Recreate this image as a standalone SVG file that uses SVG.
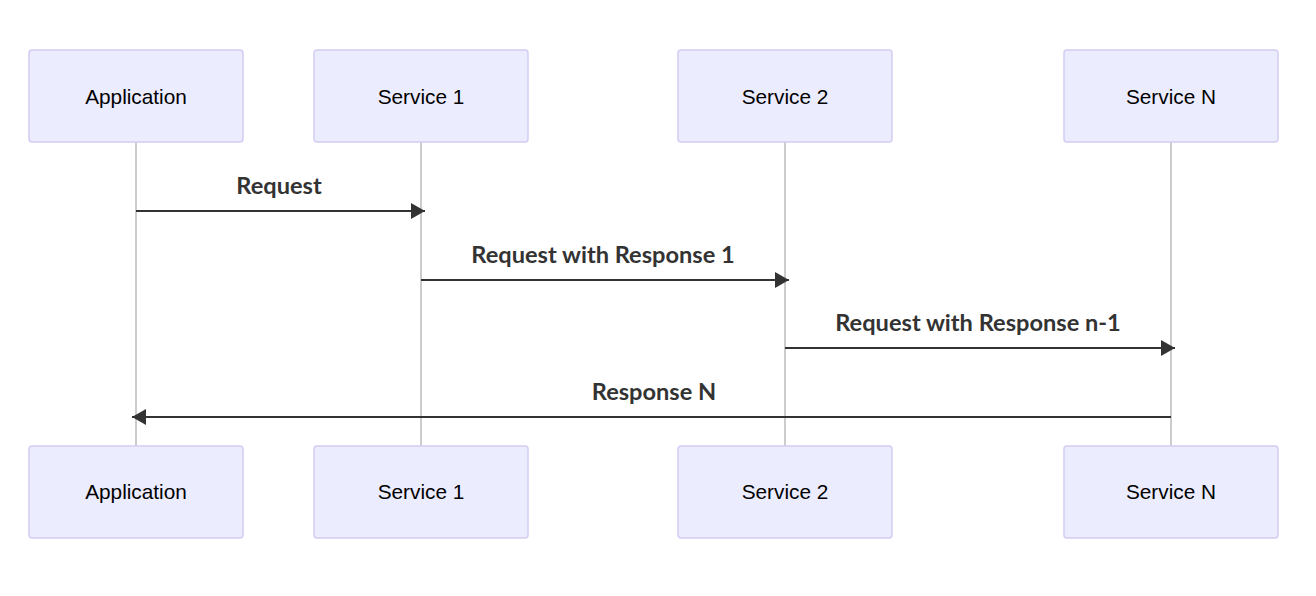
<svg xmlns="http://www.w3.org/2000/svg" width="1316" height="596" viewBox="0 0 1316 596">
<style>
.actor{fill:#ECECFF;stroke:#D3CCF3;stroke-width:1.5}
.atext{font-family:"Liberation Sans",Arial,sans-serif;font-size:20.8px;fill:#000;text-anchor:middle;dominant-baseline:central}
.life{stroke:#999;stroke-width:1}
.msg{stroke:#333;stroke-width:2;fill:none}
.mtext{font-family:Lato,"Open Sans",sans-serif;font-weight:bold;font-size:23.6px;fill:#333;text-anchor:middle;dominant-baseline:central}
</style>
<defs>
<marker id="arrow" viewBox="0 0 14 16" refX="14" refY="8" markerWidth="14" markerHeight="16" markerUnits="userSpaceOnUse" orient="auto">
<path d="M0,0 L14,8 L0,16 z" fill="#333"/>
</marker>
</defs>
<g id="lifelines">
<line class="life" x1="136" y1="142" x2="136" y2="446"/>
<line class="life" x1="421" y1="142" x2="421" y2="446"/>
<line class="life" x1="785" y1="142" x2="785" y2="446"/>
<line class="life" x1="1171" y1="142" x2="1171" y2="446"/>
</g>
<g id="app-top"><rect class="actor" x="29" y="50" width="214" height="92" rx="3"/><text class="atext" x="136" y="96">Application</text></g>
<g id="s1-top"><rect class="actor" x="314" y="50" width="214" height="92" rx="3"/><text class="atext" x="421" y="96">Service 1</text></g>
<g id="s2-top"><rect class="actor" x="678" y="50" width="214" height="92" rx="3"/><text class="atext" x="785" y="96">Service 2</text></g>
<g id="sn-top"><rect class="actor" x="1064" y="50" width="214" height="92" rx="3"/><text class="atext" x="1171" y="96">Service N</text></g>
<g id="app-bottom"><rect class="actor" x="29" y="446" width="214" height="92" rx="3"/><text class="atext" x="136" y="491">Application</text></g>
<g id="s1-bottom"><rect class="actor" x="314" y="446" width="214" height="92" rx="3"/><text class="atext" x="421" y="491">Service 1</text></g>
<g id="s2-bottom"><rect class="actor" x="678" y="446" width="214" height="92" rx="3"/><text class="atext" x="785" y="491">Service 2</text></g>
<g id="sn-bottom"><rect class="actor" x="1064" y="446" width="214" height="92" rx="3"/><text class="atext" x="1171" y="491">Service N</text></g>
<g id="connectors">
<line class="msg" x1="136" y1="211" x2="425" y2="211" marker-end="url(#arrow)"/>
<text class="mtext" x="279" y="185">Request</text>
<line class="msg" x1="421" y1="280" x2="789" y2="280" marker-end="url(#arrow)"/>
<text class="mtext" x="603" y="254">Request with Response 1</text>
<line class="msg" x1="785" y1="348" x2="1175" y2="348" marker-end="url(#arrow)"/>
<text class="mtext" x="978" y="322">Request with Response n-1</text>
<line class="msg" x1="1171" y1="417" x2="132" y2="417" marker-end="url(#arrow)"/>
<text class="mtext" x="654" y="391">Response N</text>
</g>
</svg>
